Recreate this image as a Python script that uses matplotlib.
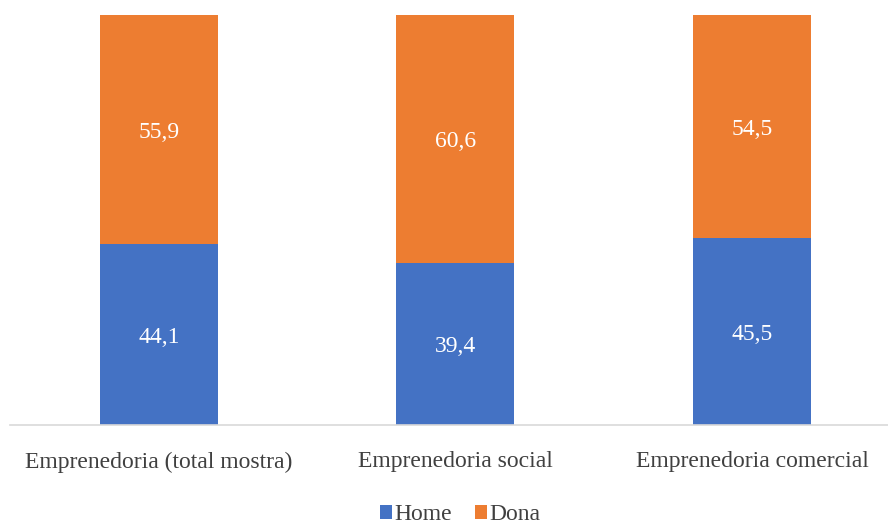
import matplotlib.pyplot as plt

categories = ['Emprenedoria (total mostra)', 'Emprenedoria social', 'Emprenedoria comercial']
home = [44.1, 39.4, 45.5]
dona = [55.9, 60.6, 54.5]

blue = '#4472C4'
orange = '#ED7D31'

plt.rcParams['font.family'] = ['Liberation Serif', 'DejaVu Serif']

fig = plt.figure(figsize=(8.88, 5.26), dpi=100)
ax = fig.add_axes([10 / 888, 101 / 526, 878 / 888, 410 / 526])

x = range(len(categories))
width = 0.398
b1 = ax.bar(x, home, width, color=blue, label='Home')
b2 = ax.bar(x, dona, width, bottom=home, color=orange, label='Dona')

def fmt(v):
    return f'{v:.1f}'.replace('.', ',')

for rects, vals, base in [(b1, home, [0] * 3), (b2, dona, home)]:
    for r, v, b in zip(rects, vals, base):
        ax.text(r.get_x() + r.get_width() / 2, b + v / 2, fmt(v),
                ha='center', va='center_baseline', color='white', fontsize=17)

ax.set_xlim(-0.5025, 2.4587)
ax.set_ylim(0, 100)
ax.set_yticks([])
ax.set_xticks(list(x))
ax.set_xticklabels(categories, fontsize=17, color='#404040')
ax.tick_params(axis='x', length=0, pad=19)
for s in ['top', 'left', 'right']:
    ax.spines[s].set_visible(False)
ax.spines['bottom'].set_color('#D9D9D9')
ax.spines['bottom'].set_linewidth(1.2)

fig.legend(loc='center', bbox_to_anchor=(0.518, 11 / 526), ncol=2, frameon=False,
           fontsize=17, handlelength=0.5, handleheight=0.5, handletextpad=0.1,
           columnspacing=1.0, labelcolor='#404040', borderaxespad=0, borderpad=0)

fig.savefig('out.png', dpi=100)
